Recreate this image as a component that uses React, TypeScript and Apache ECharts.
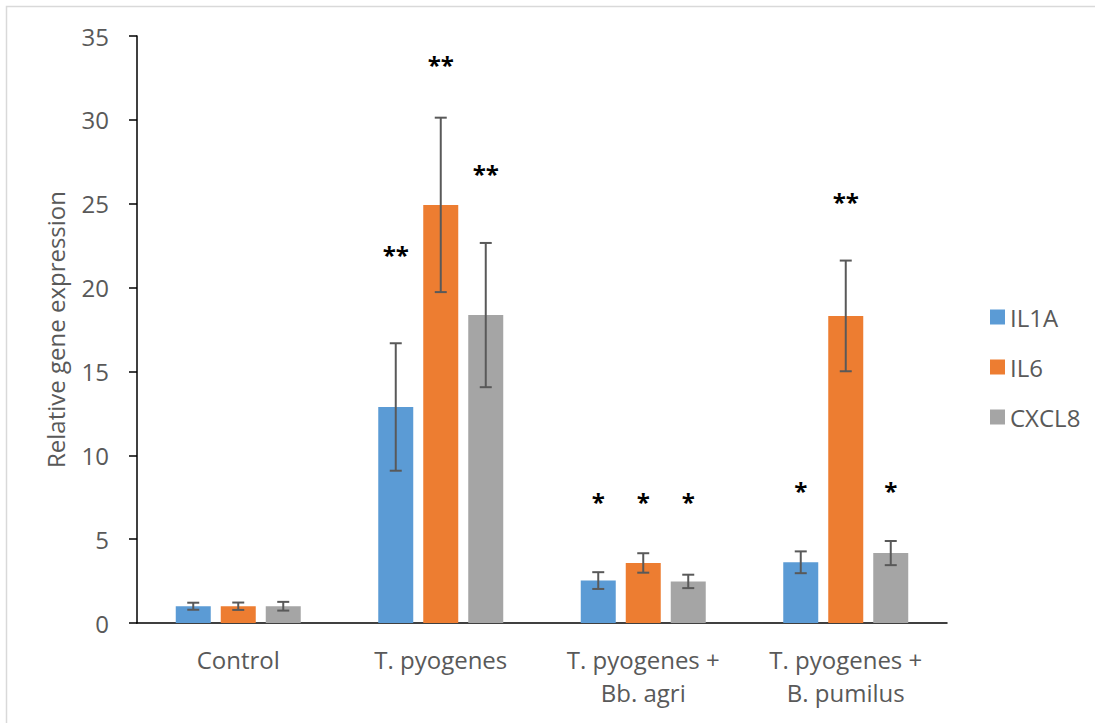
import React, { useEffect, useRef } from "react";
import * as echarts from "echarts";

const categories = ["Control", "T. pyogenes", "T. pyogenes +\nBb. agri", "T. pyogenes +\nB. pumilus"];
const seriesNames = ["IL1A", "IL6", "CXCL8"];
const il1a = [1.0, 12.88, 2.53, 3.62];
const il1aErr = [0.21, 3.8, 0.5, 0.65];
const il6 = [1.0, 24.93, 3.58, 18.31];
const il6Err = [0.22, 5.2, 0.58, 3.3];
const cxcl8 = [1.0, 18.36, 2.48, 4.17];
const cxcl8Err = [0.26, 4.3, 0.4, 0.72];
const il1aStars = ["", "**", "*", "*"];
const il1aStarY = [0, 22.04, 7.28, 7.97];
const il6Stars = ["", "**", "*", "**"];
const il6StarY = [0, 33.35, 7.28, 25.18];
const cxcl8Stars = ["", "**", "*", "*"];
const cxcl8StarY = [0, 26.85, 7.28, 7.97];
const yTicks = { min: 0, max: 35, interval: 5 };

const colors = ["#5B9BD5", "#ED7D31", "#A5A5A5"];
const FONT = '"Open Sans", "Liberation Sans", sans-serif';
const BAR_W = 35;
const BAR_GAP = 10 / 35;

export default function App() {
  const ref = useRef<HTMLDivElement>(null);
  useEffect(() => {
    if (!ref.current) return;
    const chart = echarts.init(ref.current, null, { renderer: "svg" });
    const values = [il1a, il6, cxcl8];
    const errs = [il1aErr, il6Err, cxcl8Err];
    const stars = [il1aStars, il6Stars, cxcl8Stars];
    const starY = [il1aStarY, il6StarY, cxcl8StarY];

    const barSeries = values.map((vals, k) => ({
      name: seriesNames[k],
      type: "bar",
      data: vals,
      barWidth: BAR_W,
      barGap: (BAR_GAP * 100).toFixed(2) + "%",
      itemStyle: { color: colors[k] },
      z: 2,
    }));

    const errSeries = values.map((vals, k) => ({
      name: seriesNames[k] + " error",
      type: "custom",
      coordinateSystem: "cartesian2d",
      z: 5,
      clip: false,
      silent: true,
      data: vals.map((v, i) => [i, v, errs[k][i]]),
      renderItem: (params: any, api: any) => {
        const i = params.dataIndex;
        const v = vals[i];
        const e = errs[k][i];
        const off = (k - 1) * BAR_W * (1 + BAR_GAP);
        const top = api.coord([i, v + e]);
        const bot = api.coord([i, v - e]);
        const x = top[0] + off;
        const ls = { stroke: "#595959", lineWidth: 2 };
        const children: any[] = [
          { type: "line", shape: { x1: x, y1: top[1], x2: x, y2: bot[1] }, style: ls },
          { type: "line", shape: { x1: x - 6, y1: top[1], x2: x + 6, y2: top[1] }, style: ls },
          { type: "line", shape: { x1: x - 6, y1: bot[1], x2: x + 6, y2: bot[1] }, style: ls },
        ];
        const s = stars[k][i];
        if (s) {
          const sp = api.coord([i, starY[k][i]]);
          children.push({
            type: "text",
            x: x,
            y: sp[1] + 1,
            style: {
              text: s,
              fill: "#000000",
              fontSize: 24,
              fontWeight: "bold",
              fontFamily: FONT,
              align: "center",
              verticalAlign: "middle",
            },
          });
        }
        return { type: "group", children };
      },
    }));

    chart.setOption({
      animation: false,
      backgroundColor: "#ffffff",
      textStyle: { fontFamily: FONT },
      graphic: [
        {
          type: "rect",
          silent: true,
          shape: { x: 6.5, y: 6.5, width: 1100, height: 730 },
          style: { fill: "none", stroke: "#D9D9D9", lineWidth: 1.5 },
        },
      ],
      grid: { left: 137, right: 148, top: 36, bottom: 100, containLabel: false },
      legend: {
        data: seriesNames,
        orient: "vertical",
        left: 985,
        top: 300,
        itemWidth: 15,
        itemHeight: 15,
        itemGap: 26,
        icon: "rect",
        textStyle: { color: "#595959", fontSize: 24, fontFamily: FONT },
      },
      xAxis: {
        type: "category",
        data: categories,
        axisLine: { lineStyle: { color: "#000000", width: 1.5 } },
        axisTick: { show: false },
        axisLabel: {
          color: "#595959",
          fontSize: 24,
          fontFamily: FONT,
          margin: 20,
          lineHeight: 33,
          interval: 0,
        },
      },
      yAxis: {
        type: "value",
        min: yTicks.min,
        max: yTicks.max,
        interval: yTicks.interval,
        name: "Relative gene expression",
        nameLocation: "middle",
        nameGap: 70,
        nameTextStyle: { color: "#595959", fontSize: 24, fontFamily: FONT },
        axisLine: { show: true, lineStyle: { color: "#000000", width: 1.5 } },
        axisTick: { show: true, length: 8, lineStyle: { color: "#000000", width: 1.5 } },
        axisLabel: { color: "#595959", fontSize: 24, fontFamily: FONT, margin: 28 },
        splitLine: { show: false },
      },
      series: [...barSeries, ...errSeries],
    });
    return () => chart.dispose();
  }, []);
  return (
    <div
      ref={ref}
      style={{ position: "fixed", left: 0, top: 0, width: 1095, height: 723, background: "#fff" }}
    />
  );
}
